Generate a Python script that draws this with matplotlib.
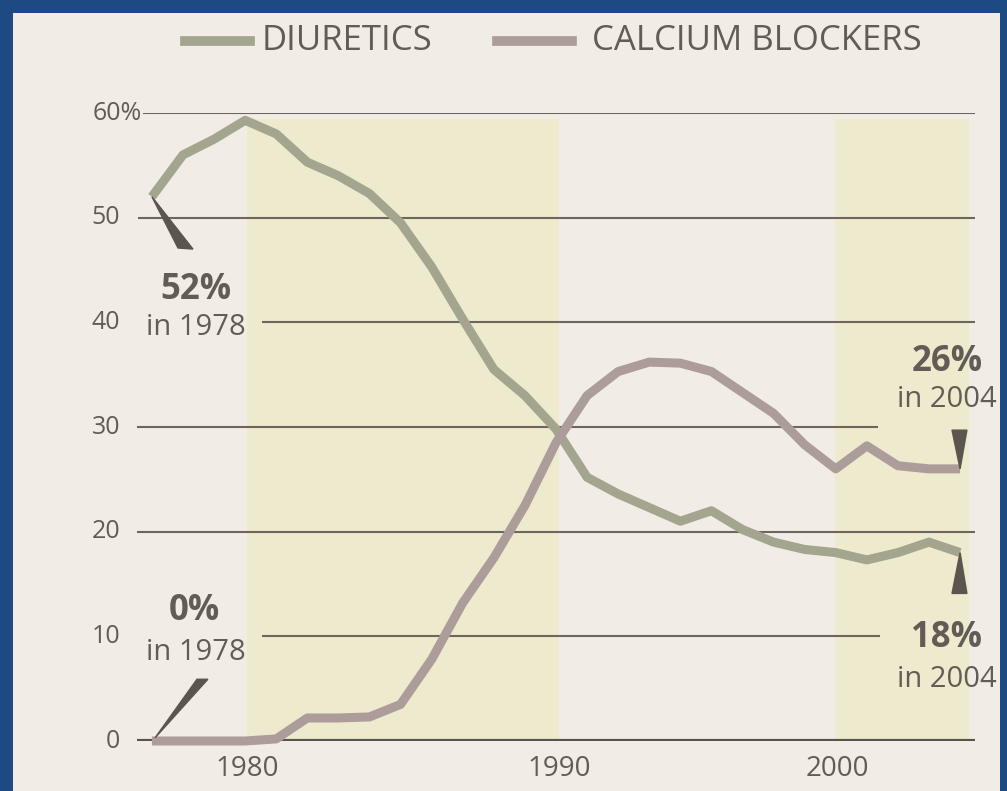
import matplotlib.pyplot as plt
from matplotlib.patches import Rectangle, Polygon
from matplotlib.lines import Line2D

plt.rcParams['font.family'] = ['Open Sans', 'DejaVu Sans']

# data, share of prescriptions in %
years = list(range(1978, 2005))
diuretics = [52, 56, 57.5, 59.3, 58, 55.3, 54, 52.3, 49.5, 45.3, 40.3, 35.5, 33, 29.8,
             25.2, 23.6, 22.3, 21, 22, 20.2, 19, 18.3, 18, 17.3, 18, 19, 18]
calcium = [0, 0, 0, 0, 0.2, 2.2, 2.2, 2.3, 3.5, 7.8, 13.2, 17.5, 22.5, 28.5,
           33, 35.3, 36.2, 36.1, 35.3, 33.3, 31.3, 28.3, 26, 28.2, 26.3, 26, 26]

decade_pos = [1981.05, 1991.1, 2000.05]
decade_labels = ['1980', '1990', '2000']
ytick_vals = [0, 10, 20, 30, 40, 50, 60]
ytick_labels = ['0', '10', '20', '30', '40', '50', '60%']

blue = '#1d4a82'
paper = '#f1ede6'
shade = '#eeeacd'
ink = '#635c56'
grid_c = '#6e665e'
c_diu = '#a3a58f'
c_cal = '#ad9d9a'

fig = plt.figure(figsize=(10.07, 7.91), dpi=100)
fig.patch.set_facecolor(blue)
fig.add_artist(Rectangle((13 / 1007, 0), 987 / 1007, 778 / 791,
                         transform=fig.transFigure, facecolor=paper,
                         edgecolor='none', zorder=-5))

ax = fig.add_axes([137 / 1007, 50 / 791, 838 / 1007, 628 / 791])
ax.set_facecolor('none')
ax.set_xlim(1977.52, 2004.48)
ax.set_ylim(0, 60)
for s in ax.spines.values():
    s.set_visible(False)

# shaded decades
ax.axvspan(1981.05, 1991.1, ymax=0.99, color=shade, zorder=0, lw=0)
ax.axvspan(1999.97, 2004.29, ymax=0.99, color=shade, zorder=0, lw=0)

# grid lines, some broken for labels
ax.hlines(60, 1977.71, 2004.48, color=grid_c, lw=1.5, zorder=1)
ax.hlines(50, 1977.55, 2004.48, color=grid_c, lw=1.5, zorder=1)
ax.hlines(40, 1981.54, 2004.48, color=grid_c, lw=1.5, zorder=1)
ax.hlines(30, 1977.52, 2001.36, color=grid_c, lw=1.5, zorder=1)
ax.hlines(20, 1977.52, 2004.48, color=grid_c, lw=1.5, zorder=1)
ax.hlines(10, 1981.54, 2001.42, color=grid_c, lw=1.5, zorder=1)
ax.hlines(0, 1977.52, 2004.48, color='#5a524b', lw=3, zorder=1)

ax.plot(years, diuretics, color=c_diu, lw=6.5, solid_capstyle='butt',
        solid_joinstyle='round', zorder=3, clip_on=False)
ax.plot(years, calcium, color=c_cal, lw=6.5, solid_capstyle='butt',
        solid_joinstyle='round', zorder=3, clip_on=False)

# y labels
yt = ax.get_yaxis_transform()
for v, lab in zip(ytick_vals, ytick_labels):
    if lab.endswith('%'):
        ax.text(0.006, v, lab, transform=yt, ha='right', va='center',
                fontsize=18, color=ink)
    else:
        ax.text(-0.02, v, lab, transform=yt, ha='right', va='center',
                fontsize=18, color=ink)

ax.set_yticks([])
ax.set_xticks(decade_pos, decade_labels)
ax.tick_params(axis='x', length=0, pad=10, labelsize=20, labelcolor=ink)

# pointers
pc = '#5c544e'
ax.add_patch(Polygon([(years[0], diuretics[0]), (1978.84, 47.1), (1979.32, 47.0)],
                     closed=True, color=pc, zorder=4, clip_on=False))
ax.add_patch(Polygon([(years[0] + 0.1, calcium[0] + 0.3), (1979.45, 5.9), (1979.8, 5.9)],
                     closed=True, color=pc, zorder=4, clip_on=False))
ax.add_patch(Polygon([(years[-1], calcium[-1]), (2003.74, 29.7), (2004.22, 29.7)],
                     closed=True, color=pc, zorder=4, clip_on=False))
ax.add_patch(Polygon([(years[-1], diuretics[-1]), (2003.74, 14.1), (2004.22, 14.1)],
                     closed=True, color=pc, zorder=4, clip_on=False))

# annotations
ax.text(1979.42, 43.1, '52%', ha='center', va='center', fontsize=25,
        fontweight='bold', color=ink)
ax.text(1979.42, 39.5, 'in 1978', ha='center', va='center', fontsize=21, color=ink)
ax.text(1979.38, 12.4, '0%', ha='center', va='center', fontsize=25,
        fontweight='bold', color=ink)
ax.text(1979.42, 8.5, 'in 1978', ha='center', va='center', fontsize=21, color=ink)
ax.text(2003.58, 36.2, '26%', ha='center', va='center', fontsize=25,
        fontweight='bold', color=ink)
ax.text(2003.58, 32.6, 'in 2004', ha='center', va='center', fontsize=21, color=ink)
ax.text(2003.55, 9.8, '18%', ha='center', va='center', fontsize=25,
        fontweight='bold', color=ink)
ax.text(2003.58, 5.9, 'in 2004', ha='center', va='center', fontsize=21, color=ink)

# legend at top
ly = 1 - 41 / 791
fig.add_artist(Line2D([185 / 1007, 250 / 1007], [ly, ly], color=c_diu, lw=7,
                      transform=fig.transFigure))
fig.text(262 / 1007, ly, 'DIURETICS', ha='left', va='center', fontsize=25, color=ink)
fig.add_artist(Line2D([497 / 1007, 572 / 1007], [ly, ly], color=c_cal, lw=7,
                      transform=fig.transFigure))
fig.text(592 / 1007, ly, 'CALCIUM BLOCKERS', ha='left', va='center', fontsize=25,
         color=ink)

fig.savefig('out.png', dpi=100, facecolor=fig.get_facecolor())
